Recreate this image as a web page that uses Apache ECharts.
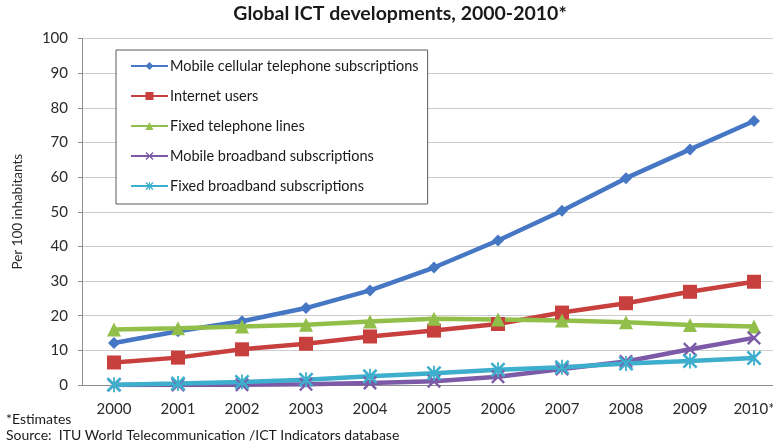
<!DOCTYPE html>
<html>
<head>
<meta charset="utf-8">
<script src="https://cdn.jsdelivr.net/npm/echarts@6/dist/echarts.min.js"></script>
<style>
  html, body { margin: 0; padding: 0; background: #fff; overflow: hidden; }
  /* the plot runs past the right edge of the window, so the last category band is cut off */
  #chart { width: 786px; height: 443px; }
</style>
</head>
<body>
<div id="chart"></div>
<script>
// Per 100 inhabitants, world totals
const years = ['2000', '2001', '2002', '2003', '2004', '2005', '2006', '2007', '2008', '2009', '2010*'];
const mobileCellular = [12.1, 15.5, 18.4, 22.2, 27.3, 33.9, 41.7, 50.3, 59.7, 68.0, 76.2];
const internetUsers = [6.5, 7.9, 10.3, 11.9, 14.0, 15.7, 17.6, 20.9, 23.6, 26.9, 29.8];
const fixedTelephone = [16.0, 16.4, 16.9, 17.4, 18.3, 19.1, 18.9, 18.6, 18.1, 17.3, 16.9];
const mobileBroadband = [0, 0, 0.1, 0.2, 0.6, 1.1, 2.4, 4.6, 6.8, 10.3, 13.6];
const fixedBroadband = [0.1, 0.4, 0.9, 1.5, 2.5, 3.4, 4.4, 5.1, 6.2, 6.9, 7.8];
const yTicks = [0, 10, 20, 30, 40, 50, 60, 70, 80, 90, 100];

const FONT = 'Lato, "Open Sans", sans-serif';
const crossPath = 'path://M0,1.2 L1.2,0 L10,8.8 L8.8,10 Z M8.8,0 L10,1.2 L1.2,10 L0,8.8 Z';
const starPath = 'path://M0,1.2 L1.2,0 L10,8.8 L8.8,10 Z M8.8,0 L10,1.2 L1.2,10 L0,8.8 Z M4.4,0 L5.6,0 L5.6,10 L4.4,10 Z';

function lineSeries(name, data, color, symbol, size) {
  return {
    name: name,
    type: 'line',
    data: data,
    symbol: symbol,
    symbolSize: size,
    showAllSymbol: true,
    lineStyle: { width: 4.5, color: color },
    itemStyle: { color: color },
    emphasis: { disabled: true },
    animation: false
  };
}

const chart = echarts.init(document.getElementById('chart'), null, { renderer: 'canvas' });
chart.setOption({
  backgroundColor: '#ffffff',
  textStyle: { fontFamily: FONT },
  legend: {
    orient: 'vertical',
    left: 116,
    top: 50,
    padding: [8, 9, 10, 14],
    itemGap: 14,
    itemWidth: 37,
    itemHeight: 10,
    borderColor: '#5a5a5a',
    borderWidth: 1,
    backgroundColor: '#ffffff',
    textStyle: { fontFamily: FONT, fontSize: 14.5, lineHeight: 16, color: '#1a1a1a', padding: [0, 0, 0, -3] },
    data: ['Mobile cellular telephone subscriptions', 'Internet users', 'Fixed telephone lines',
           'Mobile broadband subscriptions', 'Fixed broadband subscriptions']
  },
  grid: { left: 82, right: 0, top: 38.5, bottom: 58, containLabel: false },
  xAxis: {
    type: 'category',
    data: years,
    boundaryGap: true,
    axisLine: { lineStyle: { color: '#8c8c8c', width: 1 } },
    axisTick: { show: false },
    axisLabel: { margin: 17, fontFamily: FONT, fontSize: 15, color: '#2a2a2a' }
  },
  yAxis: {
    type: 'value',
    min: yTicks[0],
    max: yTicks[yTicks.length - 1],
    interval: 10,
    name: 'Per 100 inhabitants',
    nameLocation: 'middle',
    nameGap: 57,
    nameRotate: 90,
    nameTextStyle: { fontFamily: FONT, fontSize: 13.5, color: '#2a2a2a' },
    axisLine: { show: true, lineStyle: { color: '#8c8c8c', width: 1 } },
    axisTick: { show: true, length: 4, lineStyle: { color: '#8c8c8c' } },
    axisLabel: { margin: 14, fontFamily: FONT, fontSize: 15, color: '#2a2a2a' },
    splitLine: { lineStyle: { color: '#cdcdcd', width: 1 } }
  },
  series: [
    lineSeries('Mobile cellular telephone subscriptions', mobileCellular, '#4677c4', 'diamond', 12),
    lineSeries('Internet users', internetUsers, '#c8403d', 'rect', 14),
    lineSeries('Fixed telephone lines', fixedTelephone, '#92bf4a', 'triangle', 14),
    lineSeries('Mobile broadband subscriptions', mobileBroadband, '#7d5aa8', crossPath, 14),
    lineSeries('Fixed broadband subscriptions', fixedBroadband, '#3eaecd', starPath, 15)
  ],
  graphic: [
    {
      type: 'text', x: 400, y: 4,
      style: {
        text: 'Global ICT developments, 2000-2010*', align: 'center', verticalAlign: 'top',
        fontFamily: FONT, fontSize: 19.5, fontWeight: 'bold', fill: '#1a1a1a'
      }
    },
    {
      type: 'text', left: 6, top: 412,
      style: { text: '*Estimates', fontFamily: FONT, fontSize: 14, fill: '#1a1a1a' }
    },
    {
      type: 'text', left: 6, top: 428,
      style: { text: 'Source:  ITU World Telecommunication /ICT Indicators database', fontFamily: FONT, fontSize: 14, fill: '#1a1a1a' }
    }
  ]
});
</script>
</body>
</html>
